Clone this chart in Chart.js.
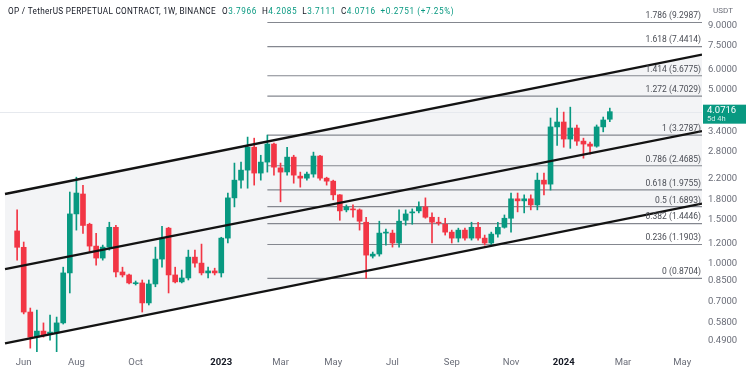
<!DOCTYPE html>
<html lang="en">
<head>
  <meta charset="UTF-8" />
  <title>OP / TetherUS Perpetual - 1W</title>
  <script src="https://cdn.jsdelivr.net/npm/chart.js"></script>
  <style>
    html, body { margin: 0; padding: 0; background: #fff; }
    .wrap { position: relative; width: 750px; height: 375px; }
  </style>
</head>
<body>
  <div class="wrap"><canvas id="opChart" width="750" height="375"></canvas></div>

  <script>
    // weekly candles, week 0 = 30 May 2022
    const opens = [1.35, 1.16, 0.637, 0.505, 0.534, 0.52, 0.525, 0.576, 0.915, 1.58,
      1.90, 1.436, 1.173, 1.05, 1.162, 1.396, 0.923, 0.898, 0.828, 0.834,
      0.693, 0.826, 1.04, 1.385, 0.898, 0.842, 0.873, 1.059, 1.002, 0.915,
      0.932, 0.915, 1.263, 1.833, 2.16, 2.37, 2.93, 2.306, 2.553, 3.017,
      2.42, 2.33, 2.673, 2.242, 2.20, 2.285, 2.70, 2.20, 2.14, 1.885,
      1.64, 1.655, 1.64, 1.463, 1.069, 1.09, 1.323, 1.323, 1.207, 1.49,
      1.595, 1.625, 1.686, 1.532, 1.463, 1.436, 1.335, 1.263, 1.36, 1.263,
      1.396, 1.263, 1.207, 1.311, 1.396, 1.518, 1.817, 1.783, 1.817, 1.717,
      2.16, 2.082, 3.536, 3.70, 3.16, 3.50, 3.10, 3.017, 2.958, 3.536,
      3.7966];
    const highs = [1.64, 1.218, 0.661, 0.649, 0.576, 0.62, 0.608, 0.965, 1.935, 2.22,
      2.06, 1.45, 1.32, 1.184, 1.463, 1.423, 0.965, 0.906, 0.849, 0.857,
      0.857, 1.162, 1.41, 1.396, 0.965, 0.94, 1.13, 1.13, 1.195, 0.965,
      0.956, 1.273, 1.917, 2.53, 2.553, 3.218, 3.186, 2.72, 3.2787, 3.045,
      2.53, 2.93, 2.72, 2.327, 2.327, 2.80, 2.72, 2.22, 2.16, 1.89,
      1.717, 1.717, 1.655, 1.532, 1.11, 1.477, 1.373, 1.36, 1.64, 1.64,
      1.655, 1.767, 1.833, 1.595, 1.532, 1.518, 1.36, 1.385, 1.385, 1.463,
      1.463, 1.299, 1.335, 1.463, 1.565, 1.917, 1.917, 1.885, 1.885, 2.306,
      2.306, 3.84, 4.205, 4.056, 4.246, 3.60, 3.186, 3.075, 3.60, 3.875,
      4.2085];
    const lows = [1.03, 0.626, 0.456, 0.44, 0.505, 0.491, 0.44, 0.57, 0.76, 1.36,
      1.32, 1.11, 0.984, 1.03, 1.13, 0.881, 0.881, 0.826, 0.818, 0.637,
      0.68, 0.805, 0.965, 0.76, 0.834, 0.834, 0.857, 0.965, 0.898, 0.873,
      0.898, 0.881, 1.207, 1.686, 2.005, 2.005, 2.063, 2.16, 2.327, 2.263,
      1.767, 2.263, 2.10, 2.024, 2.16, 2.22, 2.16, 2.063, 1.80, 1.49,
      1.61, 1.532, 1.36, 0.8704, 1.05, 1.069, 1.184, 1.162, 1.162, 1.423,
      1.436, 1.595, 1.518, 1.207, 1.423, 1.299, 1.207, 1.218, 1.24, 1.24,
      1.24, 1.184, 1.184, 1.273, 1.385, 1.335, 1.61, 1.595, 1.64, 1.64,
      1.885, 1.97, 2.98, 2.93, 2.90, 2.98, 2.647, 2.747, 2.93, 3.378,
      3.7111];
    const closes = [1.16, 0.637, 0.505, 0.534, 0.515, 0.529, 0.576, 0.915, 1.58, 1.917,
      1.42, 1.173, 1.05, 1.162, 1.396, 0.923, 0.898, 0.834, 0.834, 0.693,
      0.826, 1.04, 1.263, 0.898, 0.842, 0.873, 1.059, 1.002, 0.915, 0.932,
      0.915, 1.263, 1.833, 2.16, 2.37, 2.93, 2.306, 2.553, 3.017, 2.436,
      2.327, 2.673, 2.263, 2.20, 2.285, 2.70, 2.20, 2.14, 1.885, 1.625,
      1.686, 1.64, 1.477, 1.079, 1.089, 1.323, 1.335, 1.207, 1.477, 1.58,
      1.61, 1.686, 1.532, 1.463, 1.45, 1.335, 1.263, 1.36, 1.263, 1.396,
      1.263, 1.207, 1.311, 1.396, 1.518, 1.817, 1.783, 1.817, 1.717, 2.16,
      2.082, 3.536, 3.70, 3.16, 3.50, 3.10, 3.017, 2.958, 3.536, 3.77,
      4.0716];

    const monthTicks = [1, 9, 18, 31, 40, 48, 57, 66, 75, 83, 92, 101];
    const monthLabels = ['Jun', 'Aug', 'Oct', '2023', 'Mar', 'May', 'Jul', 'Sep', 'Nov', '2024', 'Mar', 'May'];
    const priceTicks = [0.49, 0.58, 0.7, 0.85, 1, 1.2, 1.5, 1.8, 2.2, 2.8, 3.4, 5, 6, 7.5, 9];

    // fib retracement drawn from the Feb 2023 high
    const fibRatios = [0, 0.236, 0.382, 0.5, 0.618, 0.786, 1, 1.272, 1.414, 1.618, 1.786];
    const fibPrices = [0.8704, 1.1903, 1.4446, 1.6893, 1.9755, 2.4685, 3.2787, 4.7029, 5.6775, 7.4414, 9.2987];
    const fibStartWeek = 38;

    // parallel channel, start / end week and price
    const channelWeeks = [-1.84, 104];
    const channelUpper = [1.90, 6.91];
    const channelMiddle = [0.947, 3.40];
    const channelLower = [0.477, 1.737];

    const lastPrice = 4.0716;
    const header = 'OP / TetherUS PERPETUAL CONTRACT, 1W, BINANCE';
    const ohlcText = [['O', '3.7966'], ['H', '4.2085'], ['L', '3.7111'], ['C', '4.0716'], ['', '+0.2751 (+7.25%)']];

    const upColor = '#089981';
    const downColor = '#f23645';
    const weeks = opens.map((_, i) => i);
    const candleColors = weeks.map(i => closes[i] >= opens[i] ? upColor : downColor);
    const FONT = 'Roboto, "Noto Sans", sans-serif';

    const line = (xs, ys) => [{ x: xs[0], y: ys[0] }, { x: xs[1], y: ys[1] }];

    const overlay = {
      id: 'overlay',
      beforeDatasetsDraw(chart) {
        const { ctx, chartArea, scales: { y } } = chart;
        const py = Math.round(y.getPixelForValue(lastPrice)) + 0.5;
        ctx.save();
        ctx.strokeStyle = '#e6e9ee';
        ctx.lineWidth = 1;
        ctx.beginPath();
        ctx.moveTo(chartArea.left, py);
        ctx.lineTo(chartArea.right, py);
        ctx.stroke();
        ctx.restore();
      },
      afterDatasetsDraw(chart) {
        const { ctx, chartArea, scales: { y } } = chart;
        ctx.save();
        ctx.font = '8.5px ' + FONT;
        ctx.fillStyle = '#4a4d55';
        ctx.textAlign = 'right';
        ctx.textBaseline = 'bottom';
        fibRatios.forEach((r, i) => {
          const py = y.getPixelForValue(fibPrices[i]);
          ctx.fillText(`${r} (${fibPrices[i].toFixed(4)})`, chartArea.right - 1, py - 2);
        });
        ctx.restore();
      },
      afterDraw(chart) {
        const { ctx, chartArea, scales: { y } } = chart;
        ctx.save();
        // header
        ctx.font = '8.2px ' + FONT;
        ctx.textBaseline = 'middle';
        ctx.textAlign = 'left';
        ctx.fillStyle = '#131722';
        ctx.letterSpacing = '0.3px';
        let x = 8;
        ctx.fillText(header, x, 12);
        x += ctx.measureText(header).width + 6;
        ctx.letterSpacing = '0.6px';
        ohlcText.forEach(([k, v]) => {
          ctx.fillStyle = '#131722';
          ctx.fillText(k, x, 12);
          x += ctx.measureText(k).width;
          ctx.fillStyle = upColor;
          ctx.fillText(v, x, 12);
          x += ctx.measureText(v).width + 5;
        });
        ctx.letterSpacing = '0px';
        // currency
        ctx.fillStyle = '#6a6d78';
        ctx.font = '8px ' + FONT;
        ctx.textAlign = 'center';
        ctx.fillText('USDT', 723, 11);
        // last price tag
        const py = y.getPixelForValue(lastPrice);
        const bx = chartArea.right + 1;
        ctx.fillStyle = upColor;
        ctx.fillRect(bx, py - 7, 43, 19);
        ctx.fillStyle = '#fff';
        ctx.textAlign = 'left';
        ctx.font = '9.5px ' + FONT;
        ctx.fillText(lastPrice.toFixed(4), bx + 4, py - 1);
        ctx.fillStyle = 'rgba(255,255,255,0.8)';
        ctx.font = '7.5px ' + FONT;
        ctx.fillText('5d 4h', bx + 4, py + 7);
        ctx.restore();
      }
    };

    const fibSets = fibPrices.map(p => ({
      type: 'line',
      data: line([fibStartWeek, 104], [p, p]),
      borderColor: '#84878f',
      borderWidth: 1.2,
      pointRadius: 0,
      fill: false,
      order: 6
    }));

    const channelLine = (ys, extra) => Object.assign({
      type: 'line',
      data: line(channelWeeks, ys),
      borderColor: '#131313',
      borderWidth: 2.3,
      pointRadius: 0,
      fill: false,
      order: 1
    }, extra);

    new Chart(document.getElementById('opChart'), {
      type: 'bar',
      data: {
        datasets: [
          channelLine(channelUpper, { fill: { target: 2, above: 'rgba(120,135,160,0.09)', below: 'rgba(120,135,160,0.09)' } }),
          channelLine(channelMiddle),
          channelLine(channelLower),
          ...fibSets,
          {
            label: 'wicks',
            data: weeks.map(i => ({ x: i, y: [lows[i], highs[i]] })),
            backgroundColor: candleColors,
            barThickness: 1,
            grouped: false,
            order: 5
          },
          {
            label: 'bodies',
            data: weeks.map(i => ({ x: i, y: [opens[i], closes[i]] })),
            backgroundColor: candleColors,
            barThickness: 5,
            minBarLength: 1,
            grouped: false,
            order: 4
          }
        ]
      },
      options: {
        responsive: false,
        animation: false,
        devicePixelRatio: 1,
        layout: { padding: 0 },
        plugins: {
          legend: { display: false },
          tooltip: { enabled: false },
          filler: { drawTime: 'beforeDatasetsDraw' }
        },
        scales: {
          x: {
            type: 'linear',
            offset: false,
            min: -2.6,
            max: 104,
            grid: { display: false, drawTicks: false },
            border: { display: false },
            afterBuildTicks: s => { s.ticks = monthTicks.map(v => ({ value: v })); },
            afterFit: s => { s.height = 23; s.paddingLeft = 0; s.paddingRight = 0; },
            ticks: {
              autoSkip: false,
              maxRotation: 0,
              padding: 5,
              color: (c) => monthLabels[c.index] && monthLabels[c.index].startsWith('20') ? '#131722' : '#6a6d78',
              font: (c) => ({
                family: FONT,
                size: 9.5,
                weight: monthLabels[c.index] && monthLabels[c.index].startsWith('20') ? 'bold' : 'normal'
              }),
              callback: (v, i) => monthLabels[i]
            }
          },
          y: {
            type: 'logarithmic',
            position: 'right',
            min: 0.44,
            max: 11.45,
            grid: { display: false, drawTicks: false },
            border: { display: false },
            afterBuildTicks: s => { s.ticks = priceTicks.map(v => ({ value: v })); },
            afterFit: s => { s.width = 48; s.paddingTop = 0; s.paddingBottom = 0; },
            ticks: {
              padding: 6,
              color: '#6a6d78',
              font: { family: FONT, size: 9.5 },
              callback: v => Number(v).toFixed(4)
            }
          }
        }
      },
      plugins: [overlay]
    });
  </script>
</body>
</html>
